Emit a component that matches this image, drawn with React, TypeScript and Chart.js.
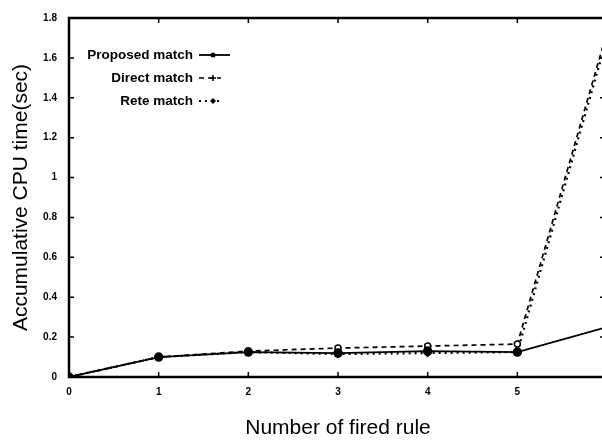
import React, { useEffect, useRef } from "react";
import { Chart, registerables } from "chart.js";

Chart.register(...registerables);

// ---- data ----
const firedRules = [0, 1, 2, 3, 4, 5, 6];
const proposedMatch = [0, 0.1, 0.125, 0.12, 0.13, 0.125, 0.25];
const directMatch = [0, 0.1, 0.13, 0.145, 0.155, 0.165, 1.73];
const reteMatch = [0, 0.1, 0.125, 0.115, 0.12, 0.125, 1.7];
const seriesNames = ["Proposed match", "Direct match", "Rete match"];
const xTickLabels = [0, 1, 2, 3, 4, 5];
const yTickLabels = [0, 0.2, 0.4, 0.6, 0.8, 1, 1.2, 1.4, 1.6, 1.8];
const xTitle = "Number of fired rule";
const yTitle = "Accumulative CPU time(sec)";

const FONT = "'Liberation Sans', Arial, Helvetica, sans-serif";

const toPoints = (ys: number[]) => firedRules.map((x, i) => ({ x, y: ys[i] }));

const framePlugin = {
  id: "frameTicks",
  afterDatasetsDraw(chart: any) {
    const { ctx, chartArea: a, scales } = chart;
    ctx.save();
    ctx.strokeStyle = "#000";
    ctx.lineWidth = 2.5;
    ctx.strokeRect(a.left, a.top, a.right - a.left, a.bottom - a.top);
    ctx.lineWidth = 1.5;
    const tl = 5;
    ctx.beginPath();
    for (const v of xTickLabels.concat([6])) {
      const px = scales.x.getPixelForValue(v);
      ctx.moveTo(px, a.bottom);
      ctx.lineTo(px, a.bottom - tl);
      ctx.moveTo(px, a.top);
      ctx.lineTo(px, a.top + tl);
    }
    for (const v of yTickLabels) {
      const py = scales.y.getPixelForValue(v);
      ctx.moveTo(a.left, py);
      ctx.lineTo(a.left + tl, py);
      ctx.moveTo(a.right, py);
      ctx.lineTo(a.right - 7, py);
    }
    ctx.stroke();
    ctx.restore();
  },
};

const legendPlugin = {
  id: "innerLegend",
  afterDraw(chart: any) {
    const { ctx, chartArea: a } = chart;
    ctx.save();
    const textRight = a.left + 124;
    const rows = [a.top + 37, a.top + 60, a.top + 83];
    chart.data.datasets.forEach((ds: any, i: number) => {
      const y = rows[i];
      ctx.fillStyle = "#000";
      ctx.font = `bold 13.5px ${FONT}`;
      ctx.textAlign = "right";
      ctx.textBaseline = "middle";
      ctx.fillText(seriesNames[i], textRight, y);
      const x0 = textRight + 6;
      const x1 = textRight + (i === 0 ? 37 : 28);
      ctx.strokeStyle = "#000";
      ctx.lineWidth = ds.borderWidth;
      ctx.setLineDash(ds.borderDash || []);
      ctx.beginPath();
      ctx.moveTo(x0, y);
      ctx.lineTo(x1, y);
      ctx.stroke();
      ctx.setLineDash([]);
      const mx = textRight + 20;
      ctx.lineWidth = 1.5;
      ctx.beginPath();
      if (i === 1) {
        ctx.moveTo(mx - 3, y);
        ctx.lineTo(mx + 3, y);
        ctx.moveTo(mx, y - 3);
        ctx.lineTo(mx, y + 3);
        ctx.stroke();
      } else if (i === 2) {
        ctx.moveTo(mx, y - 3);
        ctx.lineTo(mx + 3, y);
        ctx.lineTo(mx, y + 3);
        ctx.lineTo(mx - 3, y);
        ctx.closePath();
        ctx.fill();
      } else {
        ctx.arc(mx, y, 2.5, 0, Math.PI * 2);
        ctx.fill();
      }
    });
    ctx.restore();
  },
};

export default function App() {
  const ref = useRef<HTMLCanvasElement | null>(null);
  useEffect(() => {
    if (!ref.current) return;
    Chart.defaults.font.family = FONT;
    const chart = new Chart(ref.current, {
      type: "line",
      data: {
        datasets: [
          {
            label: seriesNames[0],
            data: toPoints(proposedMatch),
            borderColor: "#000",
            backgroundColor: "#000",
            borderWidth: 1.8,
            pointRadius: 3.8,
            pointBackgroundColor: "#000",
            pointBorderColor: "#000",
            pointStyle: "circle",
          },
          {
            label: seriesNames[1],
            data: toPoints(directMatch),
            borderColor: "#000",
            backgroundColor: "#fff",
            borderWidth: 1.7,
            borderDash: [5, 4],
            pointRadius: 3,
            pointBackgroundColor: "#fff",
            pointBorderColor: "#000",
            pointBorderWidth: 1.5,
            pointStyle: "circle",
          },
          {
            label: seriesNames[2],
            data: toPoints(reteMatch),
            borderColor: "#000",
            backgroundColor: "#000",
            borderWidth: 2.2,
            borderDash: [2, 4],
            pointRadius: 2.8,
            pointBackgroundColor: "#000",
            pointBorderColor: "#000",
            pointStyle: "rectRot",
          },
        ],
      },
      options: {
        animation: false,
        responsive: false,
        devicePixelRatio: 1,
        layout: { padding: { top: 14, right: 13, left: 0, bottom: 0 } },
        plugins: { legend: { display: false }, tooltip: { enabled: false } },
        scales: {
          x: {
            type: "linear",
            min: 0,
            max: 6,
            afterFit: (s: any) => {
              s.height = 65;
            },
            ticks: {
              stepSize: 1,
              padding: 9,
              color: "#000",
              font: { size: 10, weight: "bold", family: FONT },
              maxRotation: 0,
              callback: (v: any) => (xTickLabels.includes(Number(v)) ? String(v) : ""),
            },
            grid: { display: false, drawTicks: false },
            border: { display: false },
            title: {
              display: true,
              text: xTitle,
              color: "#000",
              font: { size: 21, family: FONT, lineHeight: 1.2 },
              padding: { top: 0, bottom: 1 },
            },
          },
          y: {
            type: "linear",
            min: 0,
            max: 1.8,
            afterFit: (s: any) => {
              s.width = 69;
            },
            ticks: {
              stepSize: 0.2,
              padding: 12,
              color: "#000",
              font: { size: 10, weight: "bold", family: FONT },
              callback: (v: any) => String(Number(Number(v).toFixed(1))),
            },
            grid: { display: false, drawTicks: false },
            border: { display: false },
            title: {
              display: true,
              text: yTitle,
              color: "#000",
              font: { size: 21, family: FONT, lineHeight: 1.2 },
              padding: { top: 9, bottom: 0 },
            },
          },
        },
      },
      plugins: [framePlugin, legendPlugin],
    } as any);
    return () => chart.destroy();
  }, []);

  return (
    <div
      style={{
        position: "fixed",
        left: 0,
        top: 0,
        width: 602,
        height: 442,
        overflow: "hidden",
        background: "#fff",
      }}
    >
      <canvas ref={ref} width={620} height={442} style={{ display: "block", width: 620, height: 442 }} />
    </div>
  );
}
